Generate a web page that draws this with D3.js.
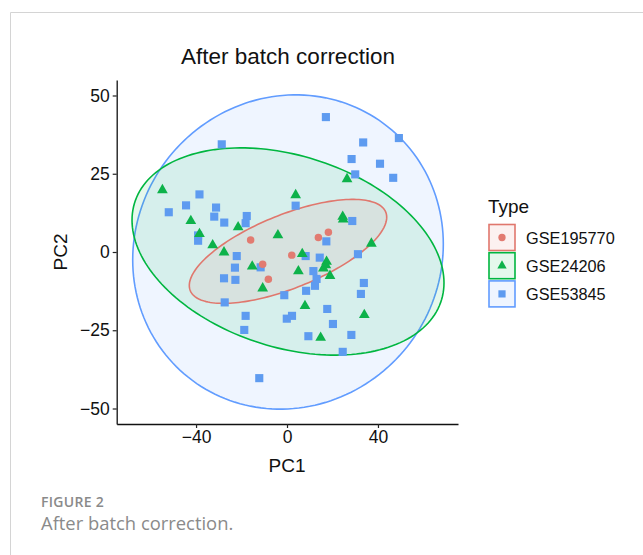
<!DOCTYPE html>
<html>
<head>
<meta charset="utf-8">
<script src="https://cdn.jsdelivr.net/npm/d3@7"></script>
<style>
  body { margin: 0; background: #fff; }
  svg { display: block; }
  text { font-family: "Liberation Sans", Arial, sans-serif; }
</style>
</head>
<body>
<svg id="chart" width="643" height="555"></svg>
<script>
// PCA scores per dataset (PC1, PC2)
const groups = ["GSE195770", "GSE24206", "GSE53845"];
const groupColors = ["#E27B71", "#0DB24A", "#5E9BF0"];
const lineColors = ["#E0776D", "#00B640", "#619CFF"];

const gse195770 = [
  [-16, 3.8], [13.8, 4.6], [18.2, 6.3], [2.1, -1], [-10.7, -3.9], [-8.2, -8.7]
];

const gse24206 = [
  [-54.8, 19.8], [-42.3, 9.9], [-21.5, 7.9], [-38.5, 5.8], [-32.7, 2.2],
  [-27.7, -0.1], [-4, 5.4], [26.4, 23.3], [3.8, 18.2], [24.5, 11.3],
  [24.7, 10.4], [37.1, 2.7], [6.7, -0.6], [17.4, -3.1], [-15.3, -4.6],
  [-10.7, -11.6], [5, -6.1], [16, -5.2], [17.1, -4.2], [18.9, -7.6],
  [7.9, -17.2], [34, -20.1], [14.8, -27.4]
];

const gse53845 = [
  [-28.7, 34.4], [-38.5, 18.4], [-44.4, 14.9], [-52, 12.7], [-31.2, 14.2],
  [-32, 11.3], [-27.6, 9.4], [-17.7, 11.5], [-18.2, 9.2], [-39.1, 5.3],
  [-39.1, 3.6], [-22.1, -1.3], [-22.9, -5], [-11.6, -4.9], [-27.7, -8.4],
  [-22.7, -8.9], [-27.4, -16.1], [-18.2, -20.4], [-18.8, -24.9], [-12.2, -40.3],
  [-1.2, -13.8], [-0.1, -21.3], [2.2, -20.4], [9.4, -26.9], [17.7, -18.2],
  [20.2, -23], [28.3, -26.5], [24.5, -31.9], [8.4, -12.4], [12.3, -10.8],
  [13, -8.6], [11.6, -6.1], [33.8, -9.9], [32.5, -13.4], [8.2, -1.3],
  [14.4, -1.8], [31.2, -0.7], [17.3, 3.4], [3.8, 14.8], [28.7, 9.9],
  [17.1, 43.1], [33.5, 35], [49.2, 36.4], [28.4, 29.7], [40.9, 28.2],
  [46.7, 23.7], [30, 24.8]
];

// 95% confidence ellipses: centre and scaled shape matrix [[xx, xy], [xy, yy]]
const ellipseCenters = [[0.44, 0.2], [0.44, 0.16], [0.44, 0.0]];
const ellipseShapes = [
  [[1884, 473], [473, 276]],
  [[4706, -686], [-686, 1096]],
  [[4665, 170], [170, 2520]]
];

const xTicks = [-40, 0, 40];
const yTicks = [-50, -25, 0, 25, 50];

const svg = d3.select("#chart");

// Outer frame of the figure panel
svg.append("path")
  .attr("d", "M10.5,555 L10.5,12.5 L643,12.5")
  .attr("fill", "none")
  .attr("stroke", "#d4d4d4")
  .attr("stroke-width", 1);

const x = d3.scaleLinear().domain([-74.9, 75.2]).range([116.7, 458]);
const y = d3.scaleLinear().domain([-54.95, 54.95]).range([424, 80]);

// Ellipses (fill + outline), largest drawn first
const ellipseOrder = [2, 1, 0];
const ellipseLayer = svg.append("g");
ellipseOrder.forEach(i => {
  const [cx, cy] = ellipseCenters[i];
  const [[a, b], [, c]] = ellipseShapes[i];
  const l00 = Math.sqrt(a);
  const l10 = b / l00;
  const l11 = Math.sqrt(c - l10 * l10);
  const pts = d3.range(0, 361, 2).map(deg => {
    const t = deg * Math.PI / 180;
    return [x(cx + l00 * Math.cos(t)), y(cy + l10 * Math.cos(t) + l11 * Math.sin(t))];
  });
  ellipseLayer.append("path")
    .attr("d", d3.line()(pts) + "Z")
    .attr("fill", lineColors[i])
    .attr("fill-opacity", 0.1)
    .attr("stroke", lineColors[i])
    .attr("stroke-width", 1.6);
});

// Points
const symbols = [d3.symbolCircle, d3.symbolTriangle, d3.symbolSquare];
const symbolSizes = [44, 50, 66];
const seriesData = [gse195770, gse24206, gse53845];
const pointLayer = svg.append("g");
[2, 1, 0].forEach(i => {
  pointLayer.selectAll(null)
    .data(seriesData[i])
    .join("path")
    .attr("d", d3.symbol(symbols[i], symbolSizes[i]))
    .attr("transform", d => `translate(${x(d[0])},${y(d[1])})`)
    .attr("fill", groupColors[i]);
});

// Axes
const xAxis = svg.append("g")
  .attr("transform", "translate(0,424)")
  .call(d3.axisBottom(x).tickValues(xTicks).tickSize(4).tickSizeOuter(0).tickPadding(3));
const yAxis = svg.append("g")
  .attr("transform", "translate(116.7,0)")
  .call(d3.axisLeft(y).tickValues(yTicks).tickSize(4).tickSizeOuter(0).tickPadding(3));
[xAxis, yAxis].forEach(g => {
  g.select(".domain").attr("stroke", "#111").attr("stroke-width", 1.3);
  g.selectAll(".tick line").attr("stroke", "#222").attr("stroke-width", 1.2);
  g.selectAll(".tick text")
    .attr("fill", "#111")
    .style("font-size", "17.5px")
    .style("font-family", "'Liberation Sans', Arial, sans-serif");
});

// Titles
svg.append("text")
  .attr("x", 288).attr("y", 64)
  .attr("text-anchor", "middle")
  .style("font-size", "22.5px")
  .attr("fill", "#111")
  .text("After batch correction");

svg.append("text")
  .attr("x", 287).attr("y", 472)
  .attr("text-anchor", "middle")
  .style("font-size", "19px")
  .attr("fill", "#111")
  .text("PC1");

svg.append("text")
  .attr("transform", "translate(67,252) rotate(-90)")
  .attr("text-anchor", "middle")
  .style("font-size", "19px")
  .attr("fill", "#111")
  .text("PC2");

// Legend
const legend = svg.append("g").attr("transform", "translate(488,0)");
legend.append("text")
  .attr("x", 0).attr("y", 213)
  .style("font-size", "19px")
  .attr("fill", "#111")
  .text("Type");

const legendSymbolSizes = [42, 38, 52];
groups.forEach((name, i) => {
  const top = 224.5 + i * 28.2;
  legend.append("rect")
    .attr("x", 1).attr("y", top)
    .attr("width", 26).attr("height", 26)
    .attr("fill", lineColors[i]).attr("fill-opacity", 0.1)
    .attr("stroke", lineColors[i]).attr("stroke-width", 1.6);
  legend.append("path")
    .attr("d", d3.symbol(symbols[i], legendSymbolSizes[i]))
    .attr("transform", `translate(14,${top + 13})`)
    .attr("fill", groupColors[i]);
  legend.append("text")
    .attr("x", 38).attr("y", top + 19)
    .style("font-size", "16.3px")
    .attr("fill", "#111")
    .text(name);
});

// Caption
svg.append("text")
  .attr("x", 41).attr("y", 507)
  .style("font-family", "'Open Sans', 'Noto Sans', sans-serif")
  .style("font-size", "14px")
  .style("font-weight", "600")
  .style("letter-spacing", "0.3px")
  .attr("fill", "#8a8a8a")
  .text("FIGURE 2");

svg.append("text")
  .attr("x", 41).attr("y", 530)
  .style("font-family", "'Open Sans', 'Noto Sans', sans-serif")
  .style("font-size", "18.4px")
  .attr("fill", "#8a8a8a")
  .text("After batch correction.");
</script>
</body>
</html>
